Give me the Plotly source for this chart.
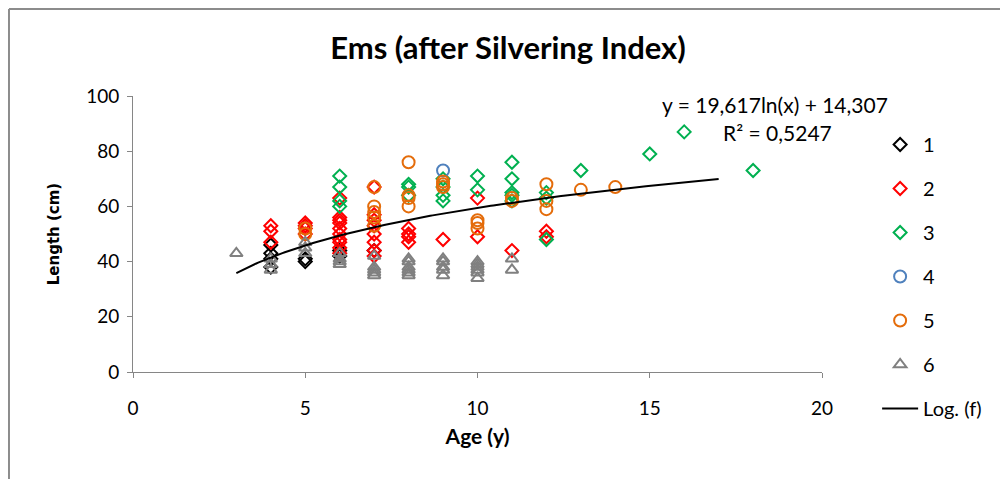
import numpy as np
import plotly.graph_objects as go

# ---- data ----
series_names = ["1", "2", "3", "4", "5", "6"]

age_1 = [4, 4, 4, 4, 5, 5, 6, 6, 7]
len_1 = [46, 43, 41, 38, 41, 40, 44, 42, 44]

age_2 = [4, 4, 4,
         5, 5, 5, 5,
         6, 6, 6, 6, 6, 6, 6, 6, 6, 6,
         7, 7, 7, 7, 7, 7, 7, 7,
         8, 8, 8, 8,
         9,
         10, 10,
         11,
         12, 12]
len_2 = [53, 51, 47,
         54, 53, 52, 50,
         63, 56, 55, 54, 52, 50, 48, 47, 45, 43,
         67, 57, 55, 53, 50, 47, 44, 42,
         52, 50, 49, 47,
         48,
         63, 49,
         44,
         51, 49]

age_3 = [6, 6, 6, 6,
         8, 8, 8,
         9, 9, 9, 9,
         10, 10,
         11, 11, 11, 11, 11,
         12, 12, 12,
         13, 15, 16, 18]
len_3 = [71, 67, 62, 60,
         68, 67, 64,
         70, 67, 64, 62,
         71, 66,
         76, 70, 65, 64, 62,
         65, 63, 48,
         73, 79, 87, 73]

age_4 = [9]
len_4 = [73]

age_5 = [5, 5,
         7, 7, 7, 7, 7,
         8, 8, 8, 8,
         9, 9, 9,
         10, 10, 10,
         11, 11,
         12, 12, 12,
         13, 14]
len_5 = [52, 50,
         67, 60, 58, 56, 53,
         76, 64, 63, 60,
         69, 68, 67,
         55, 54, 52,
         63, 62,
         68, 62, 59,
         66, 67]

age_6 = [3,
         4, 4, 4,
         5, 5, 5,
         6, 6, 6, 6,
         7, 7, 7, 7, 7,
         8, 8, 8, 8, 8, 8,
         9, 9, 9, 9, 9,
         10, 10, 10, 10, 10, 10,
         11, 11]
len_6 = [43,
         41, 39, 37,
         47, 45, 43,
         43, 41, 40, 39,
         42, 38, 37, 36, 35,
         41, 40, 38, 37, 36, 35,
         41, 40, 38, 37, 35,
         40, 39, 38, 37, 36, 34,
         41, 37]

# trendline coefficients (as displayed on chart) and its x-range
trend_a = 19.617
trend_b = 14.307
trend_x_min = 3
trend_x_max = 17

x_ticks = [0, 5, 10, 15, 20]
y_ticks = [0, 20, 40, 60, 80, 100]

FONT = "Lato"

styles = [
    dict(color="#000000", symbol="diamond-open", size=10),
    dict(color="#FF0000", symbol="diamond-open", size=10),
    dict(color="#00B050", symbol="diamond-open", size=10),
    dict(color="#4F81BD", symbol="circle-open", size=12),
    dict(color="#E46C0A", symbol="circle-open", size=12),
    dict(color="#808080", symbol="triangle-up-open", size=11),
]

data_series = [(age_1, len_1), (age_2, len_2), (age_3, len_3),
               (age_4, len_4), (age_5, len_5), (age_6, len_6)]

fig = go.Figure()
for i, (name, (ax, ly)) in enumerate(zip(series_names, data_series)):
    st = styles[i]
    fig.add_trace(go.Scatter(
        x=ax, y=ly, mode="markers", name=name, legendgroup=name,
        marker=dict(symbol=st["symbol"], size=st["size"], color=st["color"],
                    line=dict(color=st["color"], width=2)),
    ))

tx = np.linspace(trend_x_min, trend_x_max, 200)
ty = trend_a * np.log(tx) + trend_b
fig.add_trace(go.Scatter(x=tx, y=ty, mode="lines", name="Log. (f)",
                         legendgroup="trend",
                         line=dict(color="#000000", width=2)))

fig.update_layout(
    width=1000, height=471,
    margin=dict(l=125, r=186, t=88, b=107, autoexpand=False),
    paper_bgcolor="white", plot_bgcolor="white",
    font=dict(family=FONT, size=19, color="#000000"),
    title=dict(text="<b>Ems (after Silvering Index)</b>", x=0.5, xanchor="center",
               y=0.915, yanchor="middle", font=dict(family=FONT, size=31)),
    showlegend=True,
    legend=dict(x=1.08, xanchor="left", y=0.895, yanchor="top",
                tracegroupgap=15, font=dict(family=FONT, size=20),
                bgcolor="rgba(0,0,0,0)", itemwidth=36, maxheight=440),
    xaxis=dict(range=[0, 20], tickvals=x_ticks, showgrid=False, zeroline=False,
               showline=True, linecolor="#868686", linewidth=1,
               ticks="outside", ticklen=5, tickcolor="#868686",
               tickfont=dict(size=19), ticklabelstandoff=14,
               title=dict(text="<b>Age (y)</b>", font=dict(size=21), standoff=11)),
    yaxis=dict(range=[0, 100], tickvals=y_ticks, showgrid=False, zeroline=False,
               showline=True, linecolor="#868686", linewidth=1,
               ticks="outside", ticklen=5, tickcolor="#868686",
               tickfont=dict(size=19), ticklabelstandoff=4,
               title=dict(text="<b>Length (cm)</b>",
                          font=dict(family="DejaVu Sans", size=15), standoff=22)),
)

fig.add_annotation(x=0.932, y=0.971, xref="paper", yref="paper", xanchor="center",
                   yanchor="middle", showarrow=False,
                   text="y = 19,617ln(x) + 14,307", font=dict(size=21))
fig.add_annotation(x=0.936, y=0.866, xref="paper", yref="paper", xanchor="center",
                   yanchor="middle", showarrow=False,
                   text="R² = 0,5247", font=dict(size=21))

# outer frame (top and left edges visible in reference)
fig.add_shape(type="line", xref="paper", yref="paper",
              x0=-0.18, x1=1.26, y0=1.315, y1=1.315,
              line=dict(color="#8C8C8C", width=2))
fig.add_shape(type="line", xref="paper", yref="paper",
              x0=-0.18, x1=-0.18, y0=1.315, y1=-0.39,
              line=dict(color="#8C8C8C", width=2))

fig.write_html("out.html")
